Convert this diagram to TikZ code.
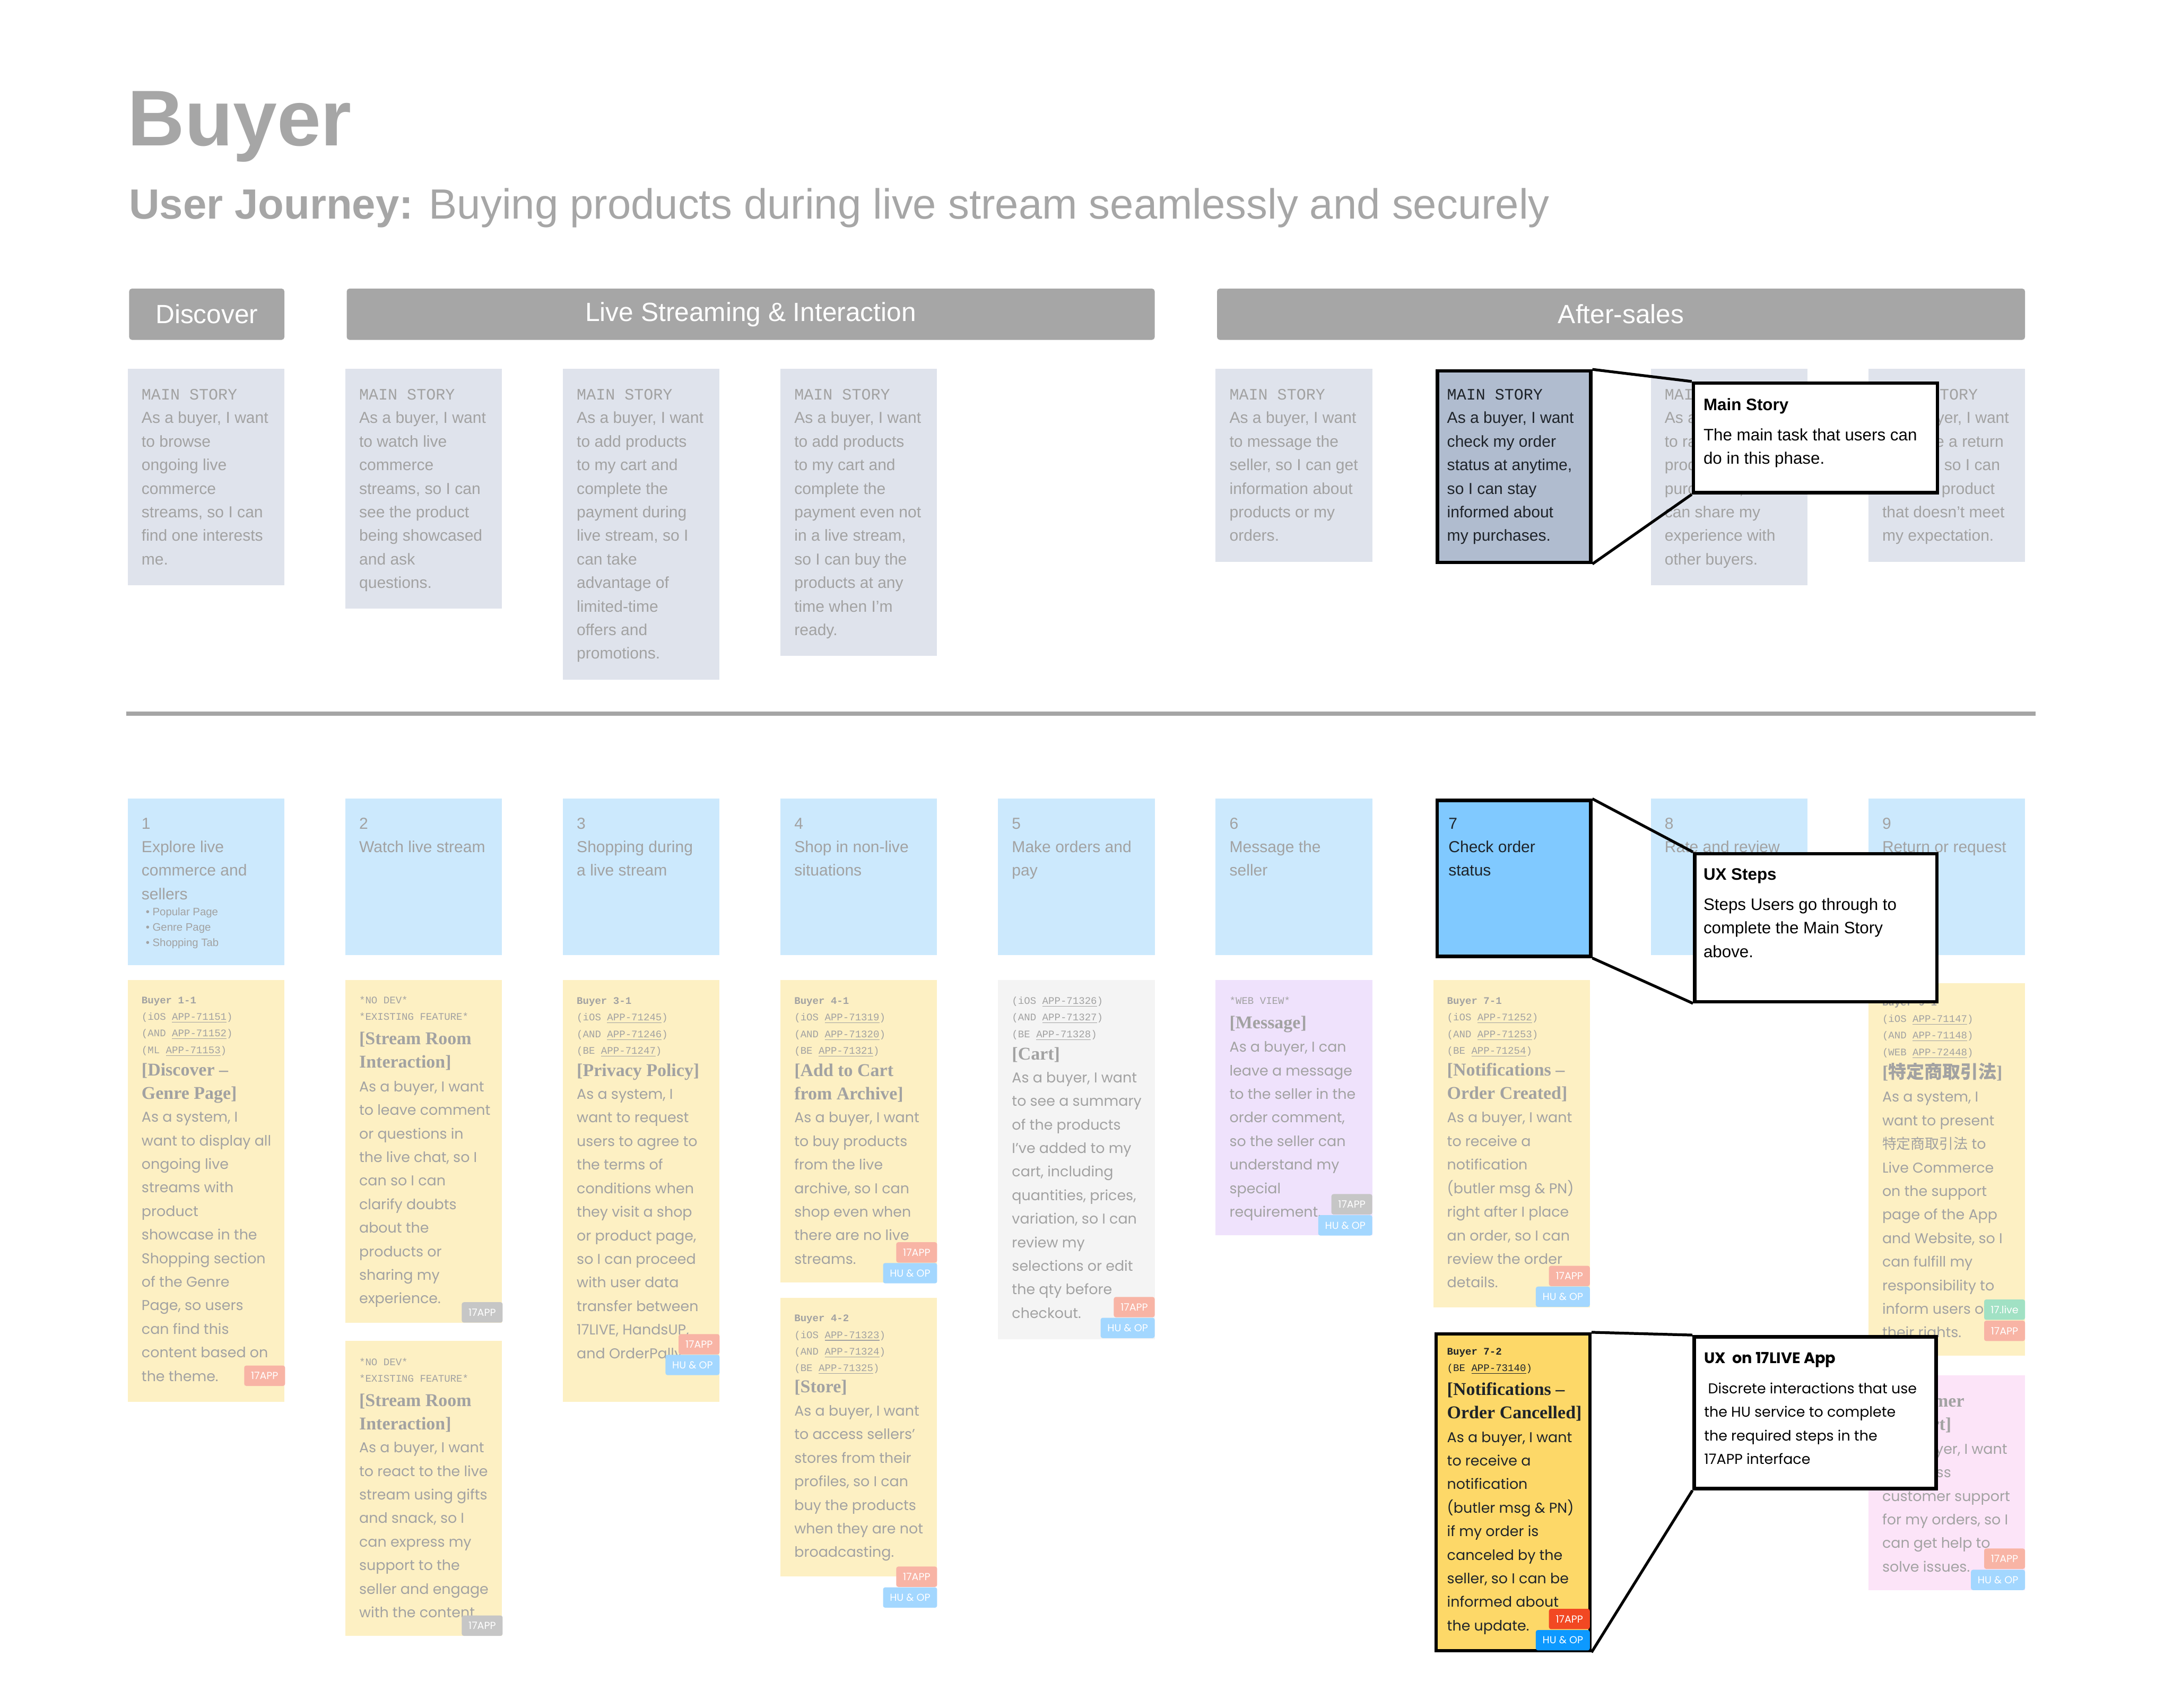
\documentclass[tikz,border=0pt]{standalone}
\usepackage{fontspec}
\setmainfont{Liberation Sans}
\newfontfamily\monofont{Liberation Mono}
\newfontfamily\widefont{Poppins}
\newfontfamily\slabfont{Liberation Serif}
\newfontfamily\cjkfont{Noto Sans CJK JP}
\usepackage{tikz}
\usetikzlibrary{positioning}
\definecolor{titlegray}{HTML}{A6A6A6}
\definecolor{phasegray}{HTML}{A6A6A6}
\definecolor{storyfill}{HTML}{DFE3EC}
\definecolor{storyhl}{HTML}{B0BCCF}
\definecolor{stepfill}{HTML}{CCE9FD}
\definecolor{stephl}{HTML}{80C9FF}
\definecolor{cardyellow}{HTML}{FDF0C3}
\definecolor{cardhl}{HTML}{FDD868}
\definecolor{cardgray}{HTML}{F4F4F4}
\definecolor{cardpurple}{HTML}{EFE2FC}
\definecolor{cardpink}{HTML}{FCE4F8}
\definecolor{fadetext}{HTML}{A2A2A2}
\definecolor{darktext}{HTML}{1E2329}
\definecolor{tagred}{HTML}{F8B4A5}
\definecolor{tagblue}{HTML}{A3D7FF}
\definecolor{taggray}{HTML}{C6C6C6}
\definecolor{taggreen}{HTML}{A1E1C4}
\definecolor{tagredhl}{HTML}{F24822}
\definecolor{tagbluehl}{HTML}{0D99FF}
\definecolor{rulegray}{HTML}{A5A5A5}

\tikzset{
  phasebar/.style={fill=phasegray, rounded corners=2pt, text=white,
    font=\fontsize{19}{19}\selectfont, inner sep=0, minimum height=37, anchor=north west},
  card/.style={anchor=north west, inner sep=0, minimum width=113},
  storycard/.style={card, fill=storyfill},
  stepcard/.style={card, fill=stepfill, minimum height=113},
  hilite/.style={draw=black, line width=2.4pt},
  txt/.style={anchor=base west, inner sep=0, align=left, text=fadetext},
  storytxt/.style={txt, font=\fontsize{11.5}{17}\selectfont},
  bullettxt/.style={txt, font=\fontsize{7.8}{11.2}\selectfont},
  monotxt/.style={txt, font=\monofont\fontsize{7.3}{12}\selectfont},
  titletxt/.style={txt, font=\slabfont\bfseries\fontsize{13}{17}\selectfont},
  bodytxt/.style={txt, font=\widefont\fontsize{10.3}{17}\selectfont},
  tag/.style={anchor=north west, inner sep=0, rounded corners=1.5pt, text=white,
    font=\widefont\fontsize{7.3}{7.3}\selectfont, minimum height=14.7},
  apptag/.style={tag, fill=tagred, minimum width=29.5},
  hutag/.style={tag, fill=tagblue, minimum width=39},
  callout/.style={draw=black, fill=white, line width=2.5pt, anchor=north west, inner sep=0},
  callline/.style={line width=2pt},
  calltxt/.style={anchor=base west, inner sep=0, align=left, text=black,
    font=\fontsize{12}{17}\selectfont}
}

\begin{document}
\begin{tikzpicture}[x=1pt, y=-1pt]
\fill[white] (0,0) rectangle (1568,1232);
\useasboundingbox (0,0) rectangle (1568,1232);

% Title
\node[txt, text=titlegray, font=\bfseries\fontsize{57}{57}\selectfont] (title) at (92,105) {Buyer};
\node[txt, text=titlegray, font=\fontsize{30.5}{30.5}\selectfont] (subtitle) at (93,158)
  {\textbf{User Journey:} Buying products during live stream seamlessly and securely};

% Phases
\node[phasebar, minimum width=112] (discover) at (93,208) {Discover};
\node[phasebar, minimum width=583] (live) at (250,208) {Live Streaming \& Interaction};
\node[phasebar, minimum width=583] (after) at (878,208) {After-sales};

% Main stories (text nodes sit on the baseline of their last line)
\node[storycard, minimum height=156] (s1) at (92,266) {};
\node[storycard, minimum height=173] (s2) at (249,266) {};
\node[storycard, minimum height=224] (s3) at (406,266) {};
\node[storycard, minimum height=207] (s4) at (563,266) {};
\node[storycard, minimum height=139] (s6) at (877,266) {};
\node[storycard, minimum height=156] (s8) at (1191,266) {};
\node[storycard, minimum height=139] (s9) at (1348,266) {};
\node[card, fill=storyhl, hilite, minimum width=110.6, minimum height=138] (s7) at (1036,266.5) {};

\node[storytxt] (s1t) at (102,407.4) {{\monofont MAIN STORY}\\As a buyer, I want\\to browse\\ongoing live\\commerce\\streams, so I can\\find one interests\\me.};
\node[storytxt] (s2t) at (259,424.4) {{\monofont MAIN STORY}\\As a buyer, I want\\to watch live\\commerce\\streams, so I can\\see the product\\being showcased\\and ask\\questions.};
\node[storytxt] (s3t) at (416,475.4) {{\monofont MAIN STORY}\\As a buyer, I want\\to add products\\to my cart and\\complete the\\payment during\\live stream, so I\\can take\\advantage of\\limited-time\\offers and\\promotions.};
\node[storytxt] (s4t) at (573,458.4) {{\monofont MAIN STORY}\\As a buyer, I want\\to add products\\to my cart and\\complete the\\payment even not\\in a live stream,\\so I can buy the\\products at any\\time when I’m\\ready.};
\node[storytxt] (s6t) at (887,390.4) {{\monofont MAIN STORY}\\As a buyer, I want\\to message the\\seller, so I can get\\information about\\products or my\\orders.};
\node[storytxt, text=darktext] (s7t) at (1044,390.4) {{\monofont MAIN STORY}\\As a buyer, I want\\check my order\\status at anytime,\\so I can stay\\informed about\\my purchases.};
\node[storytxt] (s8t) at (1201,407.4) {{\monofont MAIN STORY}\\As a buyer, I want\\to rate and review\\products I\\purchased, so I\\can share my\\experience with\\other buyers.};
\node[storytxt] (s9t) at (1358,390.4) {{\monofont MAIN STORY}\\As a buyer, I want\\to create a return\\request, so I can\\return a product\\that doesn’t meet\\my expectation.};

% Divider
\draw[line width=3pt, rulegray] (91,515) -- (1469,515);

% UX steps
\node[stepcard, minimum height=120] (t1) at (92,576) {};
\node[stepcard] (t2) at (249,576) {};
\node[stepcard] (t3) at (406,576) {};
\node[stepcard] (t4) at (563,576) {};
\node[stepcard] (t5) at (720,576) {};
\node[stepcard] (t6) at (877,576) {};
\node[stepcard] (t8) at (1191,576) {};
\node[stepcard] (t9) at (1348,576) {};
\node[card, fill=stephl, hilite, minimum width=110.8, minimum height=112.5] (t7) at (1035.8,576.3) {};

\node[storytxt] (t1t) at (102,649) {1\\Explore live\\commerce and\\sellers};
\node[bullettxt] (t1b) at (105,682.8) {\textbullet\ Popular Page\\\textbullet\ Genre Page\\\textbullet\ Shopping Tab};
\node[storytxt] (t2t) at (259,615) {2\\Watch live stream};
\node[storytxt] (t3t) at (416,632) {3\\Shopping during\\a live stream};
\node[storytxt] (t4t) at (573,632) {4\\Shop in non-live\\situations};
\node[storytxt] (t5t) at (730,632) {5\\Make orders and\\pay};
\node[storytxt] (t6t) at (887,632) {6\\Message the\\seller};
\node[storytxt, text=darktext] (t7t) at (1045,632) {7\\Check order\\status};
\node[storytxt] (t8t) at (1201,615) {8\\Rate and review};
\node[storytxt] (t9t) at (1358,615) {9\\Return or request};

% User stories
\node[card, fill=cardyellow, minimum height=304] (b11) at (92,707) {};
\node[card, fill=cardyellow, minimum height=247] (b21) at (249,707) {};
\node[card, fill=cardyellow, minimum height=213] (b22) at (249,967) {};
\node[card, fill=cardyellow, minimum height=304] (b31) at (406,707) {};
\node[card, fill=cardyellow, minimum height=218] (b41) at (563,707) {};
\node[card, fill=cardyellow, minimum height=201] (b42) at (563,936) {};
\node[card, fill=cardgray, minimum height=259] (b51) at (720,707) {};
\node[card, fill=cardpurple, minimum height=184] (b61) at (877,707) {};
\node[card, fill=cardyellow, minimum height=236] (b71) at (1034,707) {};
\node[card, fill=cardyellow, minimum height=269] (b91) at (1348,709) {};
\node[card, fill=cardpink, minimum height=155] (b92) at (1348,992) {};
\node[card, fill=cardhl, hilite, minimum width=111, minimum height=228.5] (b72) at (1035,961.2) {};

% 1-1
\node[monotxt] (b11m) at (102,760) {\textbf{Buyer 1-1}\\(iOS \underline{APP-71151})\\(AND \underline{APP-71152})\\(ML \underline{APP-71153})};
\node[titletxt] (b11h) at (102,793) {[Discover –\\Genre Page]};
\node[bodytxt] (b11b) at (102,996.5) {As a system, I\\want to display all\\ongoing live\\streams with\\product\\showcase in the\\Shopping section\\of the Genre\\Page, so users\\can find this\\content based on\\the theme.};
% 2-1
\node[monotxt] (b21m) at (259,736) {*NO DEV*\\*EXISTING FEATURE*};
\node[titletxt] (b21h) at (259,770.5) {[Stream Room\\Interaction]};
\node[bodytxt] (b21b) at (259,940.5) {As a buyer, I want\\to leave comment\\or questions in\\the live chat, so I\\can so I can\\clarify doubts\\about the\\products or\\sharing my\\experience.};
% 2-2
\node[monotxt] (b22m) at (259,997) {*NO DEV*\\*EXISTING FEATURE*};
\node[titletxt] (b22h) at (259,1031.5) {[Stream Room\\Interaction]};
\node[bodytxt] (b22b) at (259,1167) {As a buyer, I want\\to react to the live\\stream using gifts\\and snack, so I\\can express my\\support to the\\seller and engage\\with the content.};
% 3-1
\node[monotxt] (b31m) at (416,760.5) {\textbf{Buyer 3-1}\\(iOS \underline{APP-71245})\\(AND \underline{APP-71246})\\(BE \underline{APP-71247})};
\node[titletxt] (b31h) at (416,776.5) {[Privacy Policy]};
\node[bodytxt] (b31b) at (416,980) {As a system, I\\want to request\\users to agree to\\the terms of\\conditions when\\they visit a shop\\or product page,\\so I can proceed\\with user data\\transfer between\\17LIVE, HandsUP,\\and OrderPally.};
% 4-1
\node[monotxt] (b41m) at (573,760.5) {\textbf{Buyer 4-1}\\(iOS \underline{APP-71319})\\(AND \underline{APP-71320})\\(BE \underline{APP-71321})};
\node[titletxt] (b41h) at (573,793.5) {[Add to Cart\\from Archive]};
\node[bodytxt] (b41b) at (573,912) {As a buyer, I want\\to buy products\\from the live\\archive, so I can\\shop even when\\there are no live\\streams.};
% 4-2
\node[monotxt] (b42m) at (573,989.5) {\textbf{Buyer 4-2}\\(iOS \underline{APP-71323})\\(AND \underline{APP-71324})\\(BE \underline{APP-71325})};
\node[titletxt] (b42h) at (573,1004.5) {[Store]};
\node[bodytxt] (b42b) at (573,1123.5) {As a buyer, I want\\to access sellers’\\stores from their\\profiles, so I can\\buy the products\\when they are not\\broadcasting.};
% 5-1
\node[monotxt] (b51m) at (730,748.5) {(iOS \underline{APP-71326})\\(AND \underline{APP-71327})\\(BE \underline{APP-71328})};
\node[titletxt] (b51h) at (730,764.5) {[Cart]};
\node[bodytxt] (b51b) at (730,951) {As a buyer, I want\\to see a summary\\of the products\\I’ve added to my\\cart, including\\quantities, prices,\\variation, so I can\\review my\\selections or edit\\the qty before\\checkout.};
% 6-1
\node[monotxt] (b61m) at (887,724.5) {*WEB VIEW*};
\node[titletxt] (b61h) at (887,742) {[Message]};
\node[bodytxt] (b61b) at (887,878) {As a buyer, I can\\leave a message\\to the seller in the\\order comment,\\so the seller can\\understand my\\special\\requirement.};
% 7-1
\node[monotxt] (b71m) at (1044,760.5) {\textbf{Buyer 7-1}\\(iOS \underline{APP-71252})\\(AND \underline{APP-71253})\\(BE \underline{APP-71254})};
\node[titletxt] (b71h) at (1044,793) {[Notifications –\\Order Created]};
\node[bodytxt] (b71b) at (1044,929) {As a buyer, I want\\to receive a\\notification\\(butler msg \& PN)\\right after I place\\an order, so I can\\review the order\\details.};
% 7-2
\node[monotxt, text=darktext] (b72m) at (1044,989.5) {\textbf{Buyer 7-2}\\(BE \underline{APP-73140})};
\node[titletxt, text=darktext] (b72h) at (1044,1023.5) {[Notifications –\\Order Cancelled]};
\node[bodytxt, text=darktext] (b72b) at (1044,1176.5) {As a buyer, I want\\to receive a\\notification\\(butler msg \& PN)\\if my order is\\canceled by the\\seller, so I can be\\informed about\\the update.};
% 9-1
\node[monotxt] (b91m) at (1358,761.5) {\textbf{Buyer 9-1}\\(iOS \underline{APP-71147})\\(AND \underline{APP-71148})\\(WEB \underline{APP-72448})};
\node[titletxt] (b91h) at (1358,778) {[{\cjkfont\bfseries 特定商取引法}]};
\node[bodytxt] (b91b) at (1358,965) {As a system, I\\want to present\\{\cjkfont 特定商取引法} to\\Live Commerce\\on the support\\page of the App\\and Website, so I\\can fulfill my\\responsibility to\\inform users of\\their rights.};
% 9-2
\node[titletxt] (b92h) at (1358,1032) {[Customer\\Support]};
\node[bodytxt] (b92b) at (1358,1134) {As a buyer, I want\\to access\\customer support\\for my orders, so I\\can get help to\\solve issues.};

% Tags
\node[apptag] (b11a) at (176,985) {17APP};
\node[apptag, fill=taggray] (b21a) at (333,939.3) {17APP};
\node[apptag, fill=taggray] (b22a) at (333,1165.3) {17APP};
\node[apptag] (b31a) at (489.5,962.3) {17APP};
\node[hutag] (b31u) at (480,977.2) {HU \& OP};
\node[apptag] (b41a) at (646.5,896) {17APP};
\node[hutag] (b41u) at (637,911) {HU \& OP};
\node[apptag] (b42a) at (646.5,1130) {17APP};
\node[hutag] (b42u) at (637,1145) {HU \& OP};
\node[apptag] (b51a) at (803.5,935.5) {17APP};
\node[hutag] (b51u) at (794,950.5) {HU \& OP};
\node[apptag, fill=taggray] (b61a) at (960.5,861.3) {17APP};
\node[hutag] (b61u) at (951,876.5) {HU \& OP};
\node[apptag] (b71a) at (1117.5,913) {17APP};
\node[hutag] (b71u) at (1108,928) {HU \& OP};
\node[apptag, fill=tagredhl] (b72a) at (1117.5,1160.5) {17APP};
\node[hutag, fill=tagbluehl] (b72u) at (1108,1175.8) {HU \& OP};
\node[apptag, fill=taggreen] (b91g) at (1431.5,937.3) {17.live};
\node[apptag] (b91a) at (1431.5,952.6) {17APP};
\node[apptag] (b92a) at (1431.5,1117) {17APP};
\node[hutag] (b92u) at (1422,1132.3) {HU \& OP};

% Callouts
\node[callout, minimum width=176, minimum height=79] (mscall) at (1220.7,275.2) {};
\node[callout, minimum width=174.7, minimum height=106.7] (stepcall) at (1221.6,614.7) {};
\node[callout, minimum width=174.6, minimum height=109.6] (appcall) at (1221.2,963.2) {};
\draw[callline] (s7.north east) -- (mscall.north west);
\draw[callline] (s7.south east) -- (mscall.south west);
\draw[callline] (t7.north east) -- (stepcall.north west);
\draw[callline] (t7.south east) -- (stepcall.south west);
\draw[callline] (b72.north east) -- (appcall.north west);
\draw[callline] (b72.south east) -- (appcall.south west);

\node[calltxt, font=\bfseries\fontsize{12}{17}\selectfont] (msh) at (1229,296) {Main Story};
\node[calltxt] (msb) at (1229,334.8) {The main task that users can\\do in this phase.};
\node[calltxt, font=\bfseries\fontsize{12}{17}\selectfont] (sth) at (1229,635) {UX Steps};
\node[calltxt] (stb) at (1229,690.6) {Steps Users go through to\\complete the Main Story\\above.};
\node[calltxt, font=\widefont\bfseries\fontsize{11}{17}\selectfont] (aph) at (1229.5,983.8) {UX\ \ on 17LIVE App};
\node[calltxt, font=\widefont\fontsize{10.3}{17}\selectfont] (apb) at (1229.5,1056.4) {\ Discrete interactions that use\\the HU service to complete\\the required steps in the\\17APP interface};
\end{tikzpicture}
\end{document}
